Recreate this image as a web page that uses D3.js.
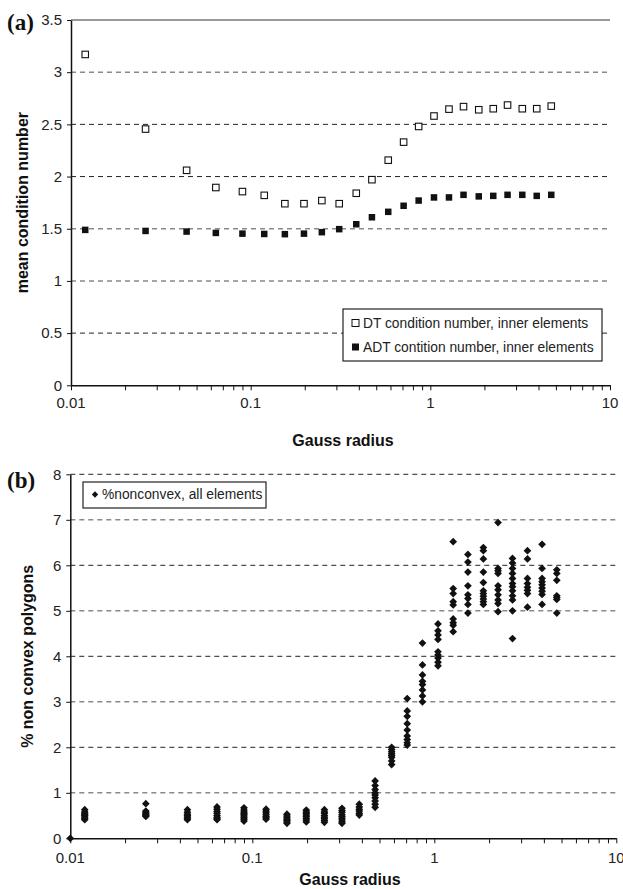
<!DOCTYPE html>
<html>
<head>
<meta charset="utf-8">
<script src="https://cdn.jsdelivr.net/npm/d3@7"></script>
<style>
  body { margin: 0; background: #fff; }
  svg { display: block; }
</style>
</head>
<body>
<script>
// Gauss radius of each run (shared by both panels)
const radius = [0.012, 0.026, 0.044, 0.064, 0.09, 0.119, 0.155, 0.198, 0.249, 0.311, 0.387, 0.473,
                0.583, 0.71, 0.861, 1.048, 1.27, 1.53, 1.86, 2.24, 2.69, 3.25, 3.91, 4.71];

// (a) mean condition number
const dtCond  = [3.17, 2.455, 2.06, 1.895, 1.856, 1.82, 1.74, 1.74, 1.77, 1.74, 1.84, 1.97,
                 2.157, 2.33, 2.48, 2.58, 2.646, 2.67, 2.64, 2.65, 2.685, 2.65, 2.65, 2.675];
const adtCond = [1.489, 1.479, 1.473, 1.46, 1.453, 1.45, 1.448, 1.453, 1.467, 1.496, 1.543, 1.61,
                 1.662, 1.72, 1.77, 1.80, 1.80, 1.825, 1.81, 1.815, 1.825, 1.825, 1.815, 1.825];

// (b) % non-convex polygons, one list of samples per radius
const nonconvex = [
  [0.63, 0.58, 0.55, 0.52, 0.5, 0.47, 0.44, 0.41],
  [0.76, 0.6, 0.57, 0.54, 0.52, 0.5, 0.48],
  [0.63, 0.57, 0.53, 0.5, 0.47, 0.44, 0.41],
  [0.69, 0.64, 0.59, 0.55, 0.5, 0.46, 0.43, 0.41],
  [0.67, 0.62, 0.58, 0.55, 0.52, 0.49, 0.45, 0.42, 0.38],
  [0.64, 0.6, 0.56, 0.52, 0.48, 0.45, 0.42],
  [0.53, 0.49, 0.45, 0.42, 0.39, 0.36, 0.33],
  [0.62, 0.58, 0.55, 0.51, 0.48, 0.44, 0.4, 0.36],
  [0.63, 0.58, 0.55, 0.5, 0.46, 0.43, 0.39, 0.35],
  [0.66, 0.61, 0.57, 0.52, 0.48, 0.44, 0.4, 0.36, 0.33],
  [0.75, 0.69, 0.64, 0.6, 0.55, 0.51],
  [1.26, 1.16, 1.07, 1.0, 0.95, 0.89, 0.82, 0.75, 0.68],
  [2.0, 1.95, 1.9, 1.86, 1.82, 1.78, 1.7, 1.62],
  [3.07, 2.8, 2.68, 2.52, 2.38, 2.25, 2.17, 2.1, 2.05],
  [4.29, 3.81, 3.59, 3.45, 3.38, 3.26, 3.13, 3.0],
  [4.71, 4.56, 4.47, 4.37, 4.1, 4.03, 3.96, 3.87, 3.79],
  [6.52, 5.49, 5.38, 5.2, 5.13, 4.82, 4.74, 4.68, 4.54],
  [6.24, 6.07, 5.85, 5.55, 5.35, 5.27, 5.14, 4.95],
  [6.39, 6.32, 6.14, 5.85, 5.62, 5.44, 5.38, 5.32, 5.26, 5.2, 5.14],
  [6.94, 5.93, 5.88, 5.82, 5.55, 5.46, 5.35, 5.24, 5.16, 4.98],
  [6.15, 6.05, 5.93, 5.82, 5.71, 5.6, 5.53, 5.44, 5.33, 5.24, 5.0, 4.39],
  [6.32, 6.14, 5.71, 5.6, 5.52, 5.45, 5.38, 5.08],
  [6.46, 5.93, 5.71, 5.64, 5.57, 5.5, 5.43, 5.36, 5.14],
  [5.9, 5.82, 5.67, 5.33, 5.29, 5.25, 4.95]
];
// single sample sitting on the origin
const originRadius = [0.01];
const originValue = [0];

// axis ticks and labels
const xMajor = [0.01, 0.1, 1, 10];
const xTickLabels = ["0.01", "0.1", "1", "10"];
const condTicks = [0, 0.5, 1, 1.5, 2, 2.5, 3, 3.5];
const pctTicks = [0, 1, 2, 3, 4, 5, 6, 7, 8];

const seriesNames = ["DT condition number, inner elements", "ADT contition number, inner elements"];
const pctName = "%nonconvex, all elements";

// ---------------------------------------------------------------
const W = 623, H = 889;
const FONT = "'Liberation Sans', Arial, Helvetica, sans-serif";
const svg = d3.select("body").append("svg")
  .attr("width", W).attr("height", H)
  .style("font-family", FONT);

// every integer multiple inside each decade for the log axis ticks
const xMinor = [];
for (let e = -2; e <= 0; e++) for (let m = 1; m <= 9; m++) xMinor.push(+(m * Math.pow(10, e)).toPrecision(3));
xMinor.push(10);

function drawXAxis(g, x, y0, labelY) {
  const ax = d3.axisBottom(x).tickValues(xMinor).tickSize(5).tickSizeOuter(0).tickFormat(() => "");
  const a = g.append("g").attr("transform", `translate(0,${y0})`).call(ax);
  a.select(".domain").attr("stroke", "#111").attr("stroke-width", 1.5);
  a.selectAll(".tick line").attr("stroke", "#111").attr("stroke-width", 1);
  g.selectAll(null).data(xMajor).enter().append("text")
    .attr("x", d => x(d)).attr("y", labelY)
    .attr("text-anchor", "middle")
    .attr("font-size", 15).attr("fill", "#222")
    .text((d, i) => xTickLabels[i]);
}

function drawYAxis(g, y, x0, ticks) {
  const ax = d3.axisLeft(y).tickValues(ticks).tickSize(4).tickSizeOuter(0).tickPadding(5).tickFormat(d => String(d));
  const a = g.append("g").attr("transform", `translate(${x0},0)`).call(ax);
  a.select(".domain").attr("stroke", "#111").attr("stroke-width", 1.5);
  a.selectAll(".tick line").attr("stroke", "#111").attr("stroke-width", 1);
  a.selectAll(".tick text").attr("font-size", 15).attr("fill", "#222").attr("font-family", FONT);
}

function dashed(g, x1, x2, yv, dark) {
  g.append("line")
    .attr("x1", x1).attr("x2", x2).attr("y1", yv).attr("y2", yv)
    .attr("stroke", dark ? "#222" : "#8a8a8a")
    .attr("stroke-width", dark ? 1 : 1.6)
    .attr("stroke-dasharray", "5,4");
}

// ================= (a) condition number =================
{
  const g = svg.append("g");
  const x = d3.scaleLog().domain([0.01, 10]).range([71, 610]);
  const y = d3.scaleLinear().domain([0, 3.5]).range([385.3, 20]);

  condTicks.forEach(t => {
    if (t === 0) return;
    if (t === 3.5) {
      g.append("line").attr("x1", x(0.01)).attr("x2", x(10)).attr("y1", y(t)).attr("y2", y(t))
        .attr("stroke", "#777").attr("stroke-width", 1.5);
    } else {
      dashed(g, x(0.01), x(10), y(t), [0.5, 2, 2.5].includes(t));
    }
  });

  drawXAxis(g, x, y(0), 408);
  drawYAxis(g, y, x(0.01), condTicks);

  const s = 6.5;
  g.selectAll(null).data(radius).enter().append("rect")
    .attr("x", d => x(d) - s / 2).attr("y", (d, i) => y(dtCond[i]) - s / 2)
    .attr("width", s).attr("height", s)
    .attr("fill", "#fff").attr("stroke", "#111").attr("stroke-width", 1.1);
  g.selectAll(null).data(radius).enter().append("rect")
    .attr("x", d => x(d) - s / 2).attr("y", (d, i) => y(adtCond[i]) - s / 2)
    .attr("width", s).attr("height", s)
    .attr("fill", "#111");

  // legend
  const lg = g.append("g");
  lg.append("rect").attr("x", 343).attr("y", 309).attr("width", 259).attr("height", 52)
    .attr("fill", "#fff").attr("stroke", "#222").attr("stroke-width", 1.2);
  seriesNames.forEach((name, i) => {
    const cy = 323 + i * 24;
    lg.append("rect").attr("x", 352).attr("y", cy - 3.5).attr("width", 7).attr("height", 7)
      .attr("fill", i === 0 ? "#fff" : "#111").attr("stroke", "#111").attr("stroke-width", i === 0 ? 1 : 0);
    lg.append("text").attr("x", 363).attr("y", cy).attr("dy", "0.35em")
      .attr("font-size", 13.8).attr("fill", "#222").text(name);
  });

  // titles
  g.append("text").attr("transform", `translate(22,${(y(0) + y(3.5)) / 2}) rotate(-90)`)
    .attr("text-anchor", "middle").attr("dy", "0.35em")
    .attr("font-size", 16).attr("font-weight", "bold").attr("fill", "#111")
    .text("mean condition number");
  g.append("text").attr("x", 343).attr("y", 446).attr("text-anchor", "middle")
    .attr("font-size", 16).attr("font-weight", "bold").attr("fill", "#111")
    .text("Gauss radius");
  g.append("text").attr("x", 7).attr("y", 30)
    .attr("font-family", "'Liberation Serif', 'Times New Roman', serif")
    .attr("font-size", 23).attr("font-weight", "bold").attr("fill", "#111")
    .text("(a)");
}

// ================= (b) % non-convex polygons =================
{
  const g = svg.append("g");
  const x = d3.scaleLog().domain([0.01, 10]).range([70.3, 616.3]);
  const y = d3.scaleLinear().domain([0, 8]).range([838.3, 474.3]);

  pctTicks.forEach(t => {
    if (t === 0) return;
    dashed(g, x(0.01), x(10), y(t), t % 2 === 0);
  });

  drawXAxis(g, x, y(0), 863);
  drawYAxis(g, y, x(0.01), pctTicks);

  const pts = [];
  nonconvex.forEach((vals, i) => vals.forEach(v => pts.push([radius[i], v])));
  originRadius.forEach((r, i) => pts.push([r, originValue[i]]));

  const diamond = d3.symbol(d3.symbolSquare).size(30);
  g.selectAll(null).data(pts).enter().append("path")
    .attr("d", diamond)
    .attr("transform", d => `translate(${x(d[0])},${y(d[1])}) rotate(45)`)
    .attr("fill", "#111");

  // legend
  const lg = g.append("g");
  lg.append("rect").attr("x", 83).attr("y", 482).attr("width", 183).attr("height", 26)
    .attr("fill", "#fff").attr("stroke", "#222").attr("stroke-width", 1.2);
  lg.append("path").attr("d", d3.symbol(d3.symbolSquare).size(20))
    .attr("transform", "translate(95,494.5) rotate(45)").attr("fill", "#111");
  lg.append("text").attr("x", 102).attr("y", 494.5).attr("dy", "0.35em")
    .attr("font-size", 13.8).attr("fill", "#222").text(pctName);

  // titles
  g.append("text").attr("transform", `translate(27,${(y(0) + y(8)) / 2}) rotate(-90)`)
    .attr("text-anchor", "middle").attr("dy", "0.35em")
    .attr("font-size", 16).attr("font-weight", "bold").attr("fill", "#111")
    .text("% non convex polygons");
  g.append("text").attr("x", 350).attr("y", 885).attr("text-anchor", "middle")
    .attr("font-size", 16).attr("font-weight", "bold").attr("fill", "#111")
    .text("Gauss radius");
  g.append("text").attr("x", 7).attr("y", 488)
    .attr("font-family", "'Liberation Serif', 'Times New Roman', serif")
    .attr("font-size", 23).attr("font-weight", "bold").attr("fill", "#111")
    .text("(b)");
}
</script>
</body>
</html>
